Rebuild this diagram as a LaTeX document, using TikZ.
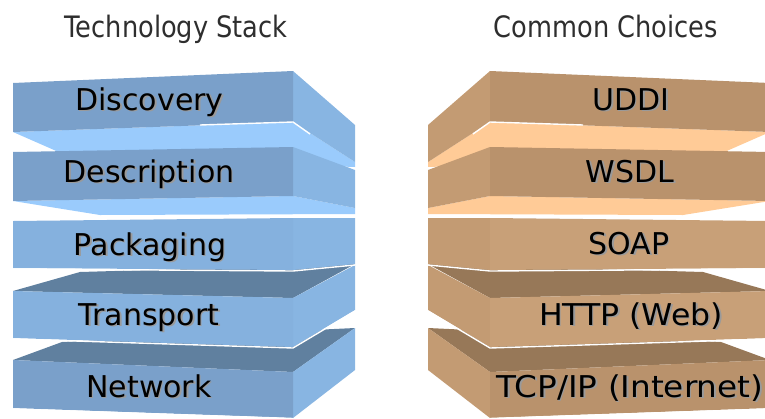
\documentclass[tikz,border=0pt]{standalone}
\usepackage{fontspec}
\setmainfont{DejaVu Sans}

% blue stack
\definecolor{Lfront}{HTML}{7AA0CA}
\definecolor{Lfrontlt}{HTML}{85B1DE}
\definecolor{Lside}{HTML}{88B5E2}
\definecolor{Lunder}{HTML}{9ACBFC}
\definecolor{Ltop}{HTML}{60809F}
% tan stack
\definecolor{Rfront}{HTML}{B9926C}
\definecolor{Rfrontlt}{HTML}{C8A078}
\definecolor{Rside}{HTML}{C39B73}
\definecolor{Runder}{HTML}{FFCB97}
\definecolor{Rtop}{HTML}{977858}
\definecolor{shadowgray}{HTML}{9A9A9A}
\definecolor{titlegray}{HTML}{2E2E2E}

\tikzset{
  rim/.style={draw=white, line width=1.4pt, line join=round},
  lbl/.style={font=\fontsize{30}{36}\selectfont, anchor=base, inner sep=0pt, text=black},
  lblshadow/.style={lbl, text=shadowgray},
  ttl/.style={font=\fontsize{29.5}{35}\selectfont, anchor=base, inner sep=0pt, text=titlegray},
}

% One stack of five slabs; #1 is the colour prefix (L or R)
\newcommand{\slabstack}[1]{%
  % slab 1 (top)
  \fill[#1under] (13,132) -- (293,122) -- (355,162) -- (355,167) -- (70,157) -- cycle;
  \fill[#1side]  (293,71) -- (355,125) -- (355,162) -- (293,122) -- cycle;
  \fill[#1front] (13,83) -- (293,71) -- (293,122) -- (13,132) -- cycle;
  \draw[rim] (200,125) -- (293,122) -- (310,134);
  % slab 2
  \fill[#1under] (13,201) -- (293,196) -- (355,208) -- (355,214) -- (100,215) -- cycle;
  \fill[#1side]  (293,147) -- (355,170) -- (355,208) -- (293,196) -- cycle;
  \fill[#1front] (13,152) -- (293,147) -- (293,196) -- (13,201) -- cycle;
  % slab 5 (bottom)
  \fill[#1top]   (13,360) -- (62,342) -- (355,328) -- (293,372) -- cycle;
  \fill[#1side]  (293,372) -- (355,328) -- (355,370) -- (293,418) -- cycle;
  \fill[#1front] (13,360) -- (293,372) -- (293,418) -- (13,408) -- cycle;
  \draw[rim] (13,409) -- (293,418.5);
  % slab 4
  \fill[#1top]   (13,291) -- (80,272) -- (355,264) -- (293,298) -- cycle;
  \fill[#1side]  (293,298) -- (355,265) -- (355,310) -- (293,347) -- cycle;
  \fill[#1frontlt] (13,291) -- (293,298) -- (293,347) -- (13,338) -- cycle;
  \draw[rim] (13,339) -- (293,348) -- (355,311);
  % slab 3 (middle)
  \fill[#1side]  (293,218) -- (355,218) -- (355,264) -- (293,270) -- cycle;
  \fill[#1frontlt] (13,221) -- (293,218) -- (293,270) -- (13,268) -- cycle;
  \draw[rim] (13,269) -- (293,271) -- (355,265);
}

% #1 name, #2 position, #3 horizontal stretch, #4 text
\newcommand{\shadowlabel}[4]{%
  \node[lblshadow, xshift=1.5pt, yshift=-1.5pt] (#1-shadow) at #2 {\scalebox{#3}[1]{#4}};
  \node[lbl] (#1) at #2 {\scalebox{#3}[1]{#4}};
}

\begin{document}
\begin{tikzpicture}[x=1pt, y=-1pt]
  \useasboundingbox (0,0) rectangle (765,418);
  \clip (0,0) rectangle (765,418);

  % left stack
  \slabstack{L}
  % right stack, mirrored about x = 391.5
  \begin{scope}[xshift=783pt, xscale=-1]
    \slabstack{R}
  \end{scope}

  % headings
  \node[ttl] (title-left)  at (176,37) {\scalebox{0.87}[1]{Technology Stack}};
  \node[ttl] (title-right) at (606,37) {\scalebox{0.87}[1]{Common Choices}};

  % layer names
  \shadowlabel{discovery}{(149.5,110)}{1}{Discovery}
  \shadowlabel{description}{(149,182)}{1}{Description}
  \shadowlabel{packaging}{(150,255)}{1}{Packaging}
  \shadowlabel{transport}{(149,325)}{1}{Transport}
  \shadowlabel{network}{(149,397)}{1}{Network}

  % typical choices
  \shadowlabel{uddi}{(631,110)}{1}{UDDI}
  \shadowlabel{wsdl}{(630,182)}{1}{WSDL}
  \shadowlabel{soap}{(629,254)}{1}{SOAP}
  \shadowlabel{http}{(631,325)}{1.05}{HTTP (Web)}
  \shadowlabel{tcpip}{(630,397)}{1.09}{TCP/IP (Internet)}
\end{tikzpicture}
\end{document}
